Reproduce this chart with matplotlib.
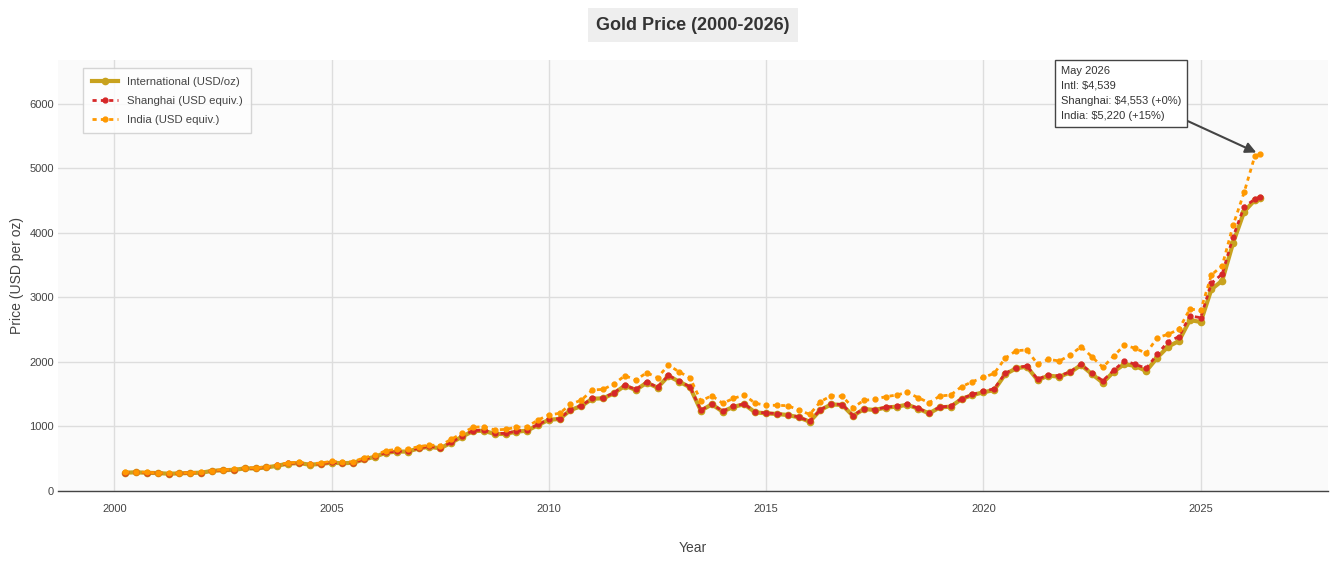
"""Gold price chart: international vs Shanghai vs India (quarterly, 2000-2026)"""

import pandas as pd
import matplotlib
matplotlib.use("Agg")
import matplotlib.pyplot as plt

plt.rcParams['font.family'] = ['Liberation Sans', 'DejaVu Sans']

# quarterly dates (Apr 2000 .. Apr 2026) plus the latest month
dates = list(pd.date_range('2000-04-01', '2026-04-01', freq='QS')) + [pd.Timestamp('2026-05-15')]

intl = [
    284, 290, 282,
    278, 268, 273, 280,
    284, 312, 322, 328,
    350, 350, 365, 392,
    425, 432, 408, 420,
    440, 430, 438, 490,
    532, 594, 610, 612,
    660, 686, 662, 748,
    842, 928, 935, 884,
    884, 920, 935, 1022,
    1105, 1116, 1255, 1317,
    1431, 1436, 1514, 1633,
    1566, 1679, 1602, 1783,
    1695, 1607, 1245, 1343,
    1230, 1307, 1343, 1219,
    1204, 1194, 1178, 1142,
    1075, 1256, 1343, 1333,
    1163, 1271, 1256, 1292,
    1307, 1338, 1276, 1204,
    1297, 1307, 1426, 1488,
    1530, 1566, 1808, 1901,
    1927, 1720, 1788, 1772,
    1839, 1953, 1813, 1679,
    1850, 1968, 1938, 1860,
    2067, 2237, 2325, 2650,
    2620, 3126, 3260, 3849,
    4330, 4510, 4539,
]

shanghai = [
    286, 292, 284,
    280, 270, 275, 282,
    286, 314, 325, 331,
    353, 353, 368, 396,
    429, 436, 412, 424,
    444, 434, 442, 495,
    537, 600, 616, 618,
    666, 693, 669, 756,
    850, 937, 944, 893,
    893, 929, 944, 1032,
    1110, 1122, 1262, 1324,
    1438, 1443, 1522, 1641,
    1574, 1688, 1610, 1792,
    1704, 1615, 1252, 1350,
    1236, 1314, 1350, 1225,
    1210, 1200, 1184, 1148,
    1080, 1262, 1350, 1340,
    1169, 1278, 1262, 1298,
    1314, 1345, 1282, 1210,
    1304, 1314, 1433, 1496,
    1545, 1585, 1822, 1912,
    1938, 1732, 1800, 1784,
    1850, 1966, 1826, 1710,
    1870, 2018, 1963, 1901,
    2118, 2315, 2392, 2713,
    2687, 3219, 3364, 3942,
    4407, 4521, 4553,
]

india = [
    290, 296, 288,
    283, 273, 278, 286,
    290, 318, 330, 336,
    360, 358, 375, 402,
    437, 446, 422, 434,
    462, 444, 455, 517,
    558, 625, 646, 651,
    687, 713, 703, 801,
    894, 987, 997, 946,
    956, 987, 997, 1100,
    1180, 1204, 1343, 1410,
    1566, 1576, 1658, 1788,
    1720, 1834, 1757, 1953,
    1844, 1757, 1395, 1478,
    1359, 1436, 1488, 1359,
    1330, 1328, 1323, 1256,
    1188, 1385, 1478, 1467,
    1292, 1405, 1421, 1462,
    1488, 1529, 1447, 1369,
    1473, 1488, 1617, 1695,
    1760, 1824, 2056, 2175,
    2186, 1968, 2041, 2015,
    2108, 2237, 2082, 1917,
    2093, 2263, 2211, 2134,
    2377, 2428, 2506, 2821,
    2800, 3348, 3493, 4123,
    4629, 5193, 5220,
]

years = [d.year + (d.dayofyear - 1) / 365.0 for d in dates]

fig = plt.figure(figsize=(13.36, 5.62), dpi=100)
ax = fig.add_axes([0.0434, 0.1263, 0.9506, 0.7669])
ax.set_facecolor('#fafafa')

ax.plot(years, intl, color='#c8a21e', lw=3, marker='o', ms=4.5,
        label='International (USD/oz)', zorder=3)
ax.plot(years, shanghai, color='#d62728', lw=2, ls=(0, (1.5, 1.5)), marker='o', ms=3.5,
        label='Shanghai (USD equiv.)', zorder=4)
ax.plot(years, india, color='#ff9800', lw=2, ls=(0, (1.5, 1.5)), marker='o', ms=3.5,
        label='India (USD equiv.)', zorder=5)

ax.set_xlim(1998.7, 2027.93)
ax.set_ylim(0, 6680)
ax.set_xticks([2000, 2005, 2010, 2015, 2020, 2025])
ax.set_yticks([0, 1000, 2000, 3000, 4000, 5000, 6000])
ax.grid(True, color='#dddddd', lw=1)
ax.set_axisbelow(True)
ax.tick_params(length=0, labelsize=8, colors='#444444')
ax.tick_params(axis='x', pad=9)
ax.tick_params(axis='y', pad=3)
for s in ['top', 'right', 'left']:
    ax.spines[s].set_visible(False)
ax.spines['bottom'].set_color('#444444')
ax.spines['bottom'].set_linewidth(1)

ax.set_xlabel('Year', fontsize=10, color='#444444')
ax.xaxis.set_label_coords(0.5, -0.117)
ax.set_ylabel('Price (USD per oz)', fontsize=10, color='#444444')
ax.yaxis.set_label_coords(-0.027, 0.5)

fig.text(693 / 1336, 1 - 25 / 562, 'Gold Price (2000-2026)', fontsize=13, fontweight='bold',
         color='#333333', ha='center', va='center',
         bbox=dict(boxstyle='square,pad=0.45', fc='#eeeeee', ec='none'))

leg = ax.legend(loc='upper left', bbox_to_anchor=(0.0197, 0.9814), borderaxespad=0,
                fontsize=8.2, frameon=True, fancybox=False, handlelength=2.3,
                labelspacing=0.8, borderpad=0.75, labelcolor='#444444')
leg.get_frame().set_edgecolor('#cccccc')
leg.get_frame().set_linewidth(1)

# latest-month annotation
last_i, last_s, last_n = intl[-1], shanghai[-1], india[-1]
note = (f"{dates[-1].strftime('%b %Y')}\n"
        f"Intl: ${last_i:,}\n"
        f"Shanghai: ${last_s:,} ({(last_s / last_i - 1) * 100:+.0f}%)\n"
        f"India: ${last_n:,} ({(last_n / last_i - 1) * 100:+.0f}%)")
ax.annotate(note, xy=(years[-1], india[-1]), xytext=(1061, 496), textcoords='figure pixels',
            ha='left', va='top', fontsize=8, color='#333333', linespacing=1.62,
            bbox=dict(boxstyle='square,pad=0.55', fc='white', ec='#444444', lw=1),
            arrowprops=dict(arrowstyle='-|>,head_length=0.8,head_width=0.4', color='#444444',
                            lw=1.5, relpos=(1, 0.05), shrinkA=0, shrinkB=3),
            zorder=10)

fig.savefig('out.png', dpi=100)
